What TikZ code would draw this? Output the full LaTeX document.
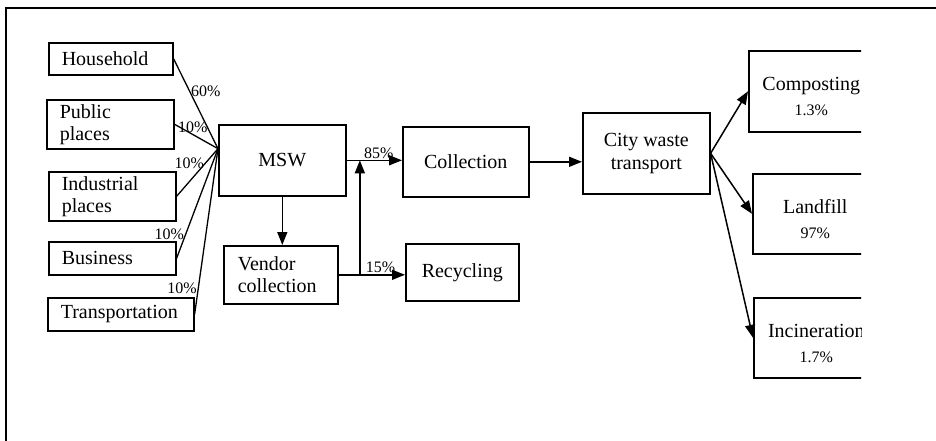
\documentclass[tikz,border=0pt]{standalone}
\usepackage{fontspec}
\setmainfont{Liberation Serif}
\usetikzlibrary{arrows.meta,calc}

\newcommand{\respct}[1]{{\fontsize{16}{18}\selectfont #1}}

\begin{document}
\begin{tikzpicture}[
  x=1pt, y=-1pt,
  src/.style={draw, line width=1.6pt, anchor=north west, inner xsep=13pt,
    inner ysep=1pt, font=\fontsize{20}{22}\selectfont, align=left},
  stage/.style={draw, line width=1.6pt, anchor=north west, inner sep=1pt,
    font=\fontsize{20}{23}\selectfont, align=center},
  res/.style={stage, font=\fontsize{20}{25}\selectfont,
    minimum width=125pt, minimum height=80pt},
  pct/.style={font=\fontsize{16}{18}\selectfont, inner sep=1pt},
  fan/.style={line width=1.3pt},
  arr/.style={-{Triangle[length=13pt,width=10pt]}, line width=1.5pt}
]
\useasboundingbox (0,0) rectangle (936,441);
\draw[line width=2.5pt] (6,441) -- (6,8) -- (936,8);

% sources
\node[src, text width=98pt, minimum height=32pt] (household) at (48,42) {Household};
\node[src, text width=101pt, minimum height=49pt] (public) at (46,99) {Public\\places};
\node[src, text width=101pt, minimum height=49pt] (industrial) at (48,171) {Industrial\\places};
\node[src, text width=101pt, minimum height=33pt] (business) at (48,241) {Business};
\node[src, text width=120pt, minimum height=33pt] (transport) at (47,297) {Transportation};

% middle
\node[stage, minimum width=127pt, minimum height=71pt] (msw) at (218,124) {MSW};
\node[src, inner xsep=14pt, text width=86pt, minimum height=58pt] (vendor) at (223,245) {Vendor\\collection};
\node[stage, minimum width=126pt, minimum height=70pt] (collection) at (402,126) {Collection};
\node[stage, minimum width=113pt, minimum height=57pt] (recycling) at (405,243) {Recycling};
\node[stage, minimum width=127pt, minimum height=81pt] (city) at (582,112) {City waste\\transport};

% treatment, cut at the right
\begin{scope}
  \clip (0,0) rectangle (861,441);
  \node[res, minimum height=81pt] (composting) at (748,50)
    {\rule{0pt}{24pt}Composting\\\respct{1.3\%}};
  \node[res] (landfill) at (752,173) {\rule{0pt}{24pt}Landfill\\\respct{97\%}};
  \node[res] (incineration) at (753,297)
    {\rule{0pt}{24pt}Incineration\\\respct{1.7\%}};
\end{scope}

\coordinate (hub) at ($(msw.north west)!0.34!(msw.south west)$);
\draw[fan] (household.east) -- node[pct, pos=0.36, anchor=west] {60\%} (hub);
\draw[fan] (public.east) -- node[pct, pos=0.42, anchor=south] {10\%} (hub);
\draw[fan] (industrial.east) -- node[pct, pos=0.7, anchor=east] {10\%} (hub);
\draw[fan] (business.east) -- node[pct, pos=0.22, anchor=east] {10\%} (hub);
\draw[fan] (transport.east) -- node[pct, pos=0.16, anchor=east] {10\%} (hub);

\draw[arr] (msw.south) -- (msw.south |- vendor.north);
\draw[arr] (msw.east) -- node[pct, pos=0.58, above] {85\%} (msw.east -| collection.west);
\draw[arr] (vendor.east) -- coordinate[pos=0.32] (jn)
  node[pct, pos=0.63, above] {15\%} (vendor.east -| recycling.west);
\draw[arr] (jn) -- (jn |- msw.east);
\draw[arr] (collection.east) -- (collection.east -| city.west);
\draw[arr] (city.east) -- (composting.west);
\draw[arr] (city.east) -- (landfill.west);
\draw[arr] (city.east) -- (incineration.west);
\end{tikzpicture}
\end{document}
